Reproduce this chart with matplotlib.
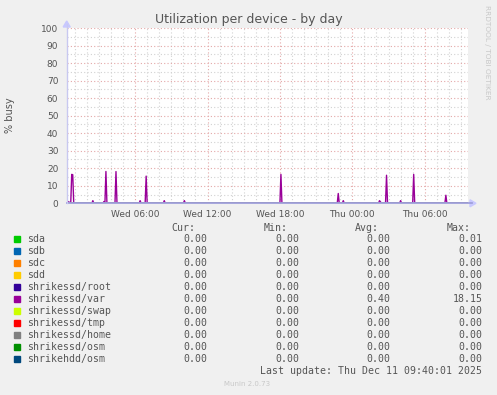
import numpy as np
import matplotlib
matplotlib.use("Agg")
import matplotlib.pyplot as plt
from matplotlib.patches import Polygon

# ---- data ----
title = "Utilization per device - by day"
ylabel = "% busy"
series_names = ["sda", "sdb", "sdc", "sdd", "shrikessd/root", "shrikessd/var",
                "shrikessd/swap", "shrikessd/tmp", "shrikessd/home",
                "shrikessd/osm", "shrikehdd/osm"]
series_colors = ["#00CC00", "#0066B3", "#FF8000", "#FFCC00", "#330099", "#990099",
                 "#CCFF00", "#FF0000", "#808080", "#008F00", "#00487D"]
cur_vals = ["0.00"] * 11
min_vals = ["0.00"] * 11
avg_vals = ["0.00", "0.00", "0.00", "0.00", "0.00", "0.40",
            "0.00", "0.00", "0.00", "0.00", "0.00"]
max_vals = ["0.01", "0.00", "0.00", "0.00", "0.00", "18.15",
            "0.00", "0.00", "0.00", "0.00", "0.00"]

# time axis in hours since Wed 00:00, 5-minute samples
t_start = 1.0 / 3.0
n_samples = 400
# spikes of shrikessd/var (hour, % busy)
var_spike_hours = [0.53, 0.73, 0.81, 2.47, 3.44, 3.55, 4.38, 6.44, 6.88, 8.38,
                   10.05, 18.11, 22.80, 23.22, 26.22, 26.30, 26.80, 27.97,
                   29.05, 31.72]
var_spike_vals = [1.0, 16.5, 16.3, 1.5, 1.0, 18.15, 18.1, 1.5, 15.5, 1.5,
                  1.5, 16.5, 5.6, 1.5, 1.5, 0.8, 16.0, 1.5, 16.5, 4.6]
xtick_hours = [6, 12, 18, 24, 30]
xtick_labels = ["Wed 06:00", "Wed 12:00", "Wed 18:00", "Thu 00:00", "Thu 06:00"]
ytick_vals = list(range(0, 101, 10))
last_update = "Last update: Thu Dec 11 09:40:01 2025"
footer = "Munin 2.0.73"
side_text = "RRDTOOL / TOBI OETIKER"

# ---- figure ----
W, H = 497, 395
fig = plt.figure(figsize=(W / 100, H / 100), dpi=100, facecolor="#F0F0F0")
L, R, T, B = 66.7, 468.0, 28.0, 203.3
ax = fig.add_axes([L / W, 1 - B / H, (R - L) / W, (B - T) / H])
ax.set_facecolor("white")

t = t_start + np.arange(n_samples) / 12.0
t_end = t[-1]
zeros = np.zeros(n_samples)
var = np.zeros(n_samples)
for h, v in zip(var_spike_hours, var_spike_vals):
    idx = int(round((h - t_start) * 12))
    var[idx] = max(var[idx], v)

ax.set_xlim(t_start, t_end)
ax.set_ylim(0, 100)

# grids
for h in np.arange(1, 34):
    col = "#E4A8A8" if h % 6 == 0 else "#D2D2D2"
    ax.axvline(h, color=col, lw=0.8, ls=(0, (1, 2)), zorder=1)
for y in range(5, 101, 5):
    col = "#E4A8A8" if y % 10 == 0 else "#D2D2D2"
    ax.axhline(y, color=col, lw=0.8, ls=(0, (1, 2)), zorder=1)

for name, col in zip(series_names, series_colors):
    data = var if name == "shrikessd/var" else zeros
    ax.plot(t, data, color=col, lw=1.0, zorder=3)

for s in ax.spines.values():
    s.set_visible(False)
ax.set_xticks(xtick_hours)
ax.set_xticklabels(xtick_labels)
ax.set_yticks(ytick_vals)
ax.tick_params(length=0, labelsize=6.5, colors="#555555", pad=6)
ax.tick_params(axis="x", pad=5)

# axis lines with arrows (in figure pixel coords)
def fx(px):
    return px / W
def fy(py):
    return 1 - py / H
fig.add_artist(plt.Line2D([fx(L), fx(472)], [fy(B), fy(B)], color="#A0A0DC", lw=1.3, zorder=5))
fig.add_artist(plt.Line2D([fx(L), fx(L)], [fy(B), fy(24)], color="#C8C8F0", lw=1.0, zorder=5))
fig.add_artist(Polygon([[fx(470), fy(B - 3.5)], [fx(470), fy(B + 3.5)], [fx(476), fy(B)]],
                       closed=True, color="#C8C8FF", transform=fig.transFigure))
fig.add_artist(Polygon([[fx(L - 3.5), fy(27)], [fx(L + 3.5), fy(27)], [fx(L), fy(21)]],
                       closed=True, color="#C8C8FF", transform=fig.transFigure))

fig.text(fx(248.5), fy(19), title, ha="center", va="center", fontsize=9, color="#555555")
fig.text(fx(10), fy(115.5), ylabel, ha="center", va="center", rotation=90,
         fontsize=7, color="#555555")
fig.text(fx(487), fy(52), side_text, ha="center", va="center", rotation=270,
         fontsize=5.3, color="#C8C8C8")

# legend
mono = dict(family="DejaVu Sans Mono", fontsize=7.1, color="#555555")
cols_x = [207.3, 299.3, 390.7, 482.3]
headers = ["Cur:", "Min:", "Avg:", "Max:"]
for x, hd in zip(cols_x, headers):
    fig.text(fx(x - 12), fy(228), hd, ha="right", va="center", **mono)
row0 = 239.3
for i, (name, col) in enumerate(zip(series_names, series_colors)):
    y = row0 + 12 * i
    fig.add_artist(plt.Rectangle((fx(14), fy(y + 3)), 6 / W, 6 / H, color=col,
                                 transform=fig.transFigure))
    fig.text(fx(26.7), fy(y), name, ha="left", va="center", **mono)
    for x, vals in zip(cols_x, [cur_vals, min_vals, avg_vals, max_vals]):
        fig.text(fx(x), fy(y), vals[i], ha="right", va="center", **mono)
fig.text(fx(482.3), fy(371), last_update, ha="right", va="center", **mono)
fig.text(fx(247), fy(384), footer, ha="center", va="center", fontsize=5,
         color="#C8C8C8")

fig.savefig("out.png", dpi=100, facecolor=fig.get_facecolor())
